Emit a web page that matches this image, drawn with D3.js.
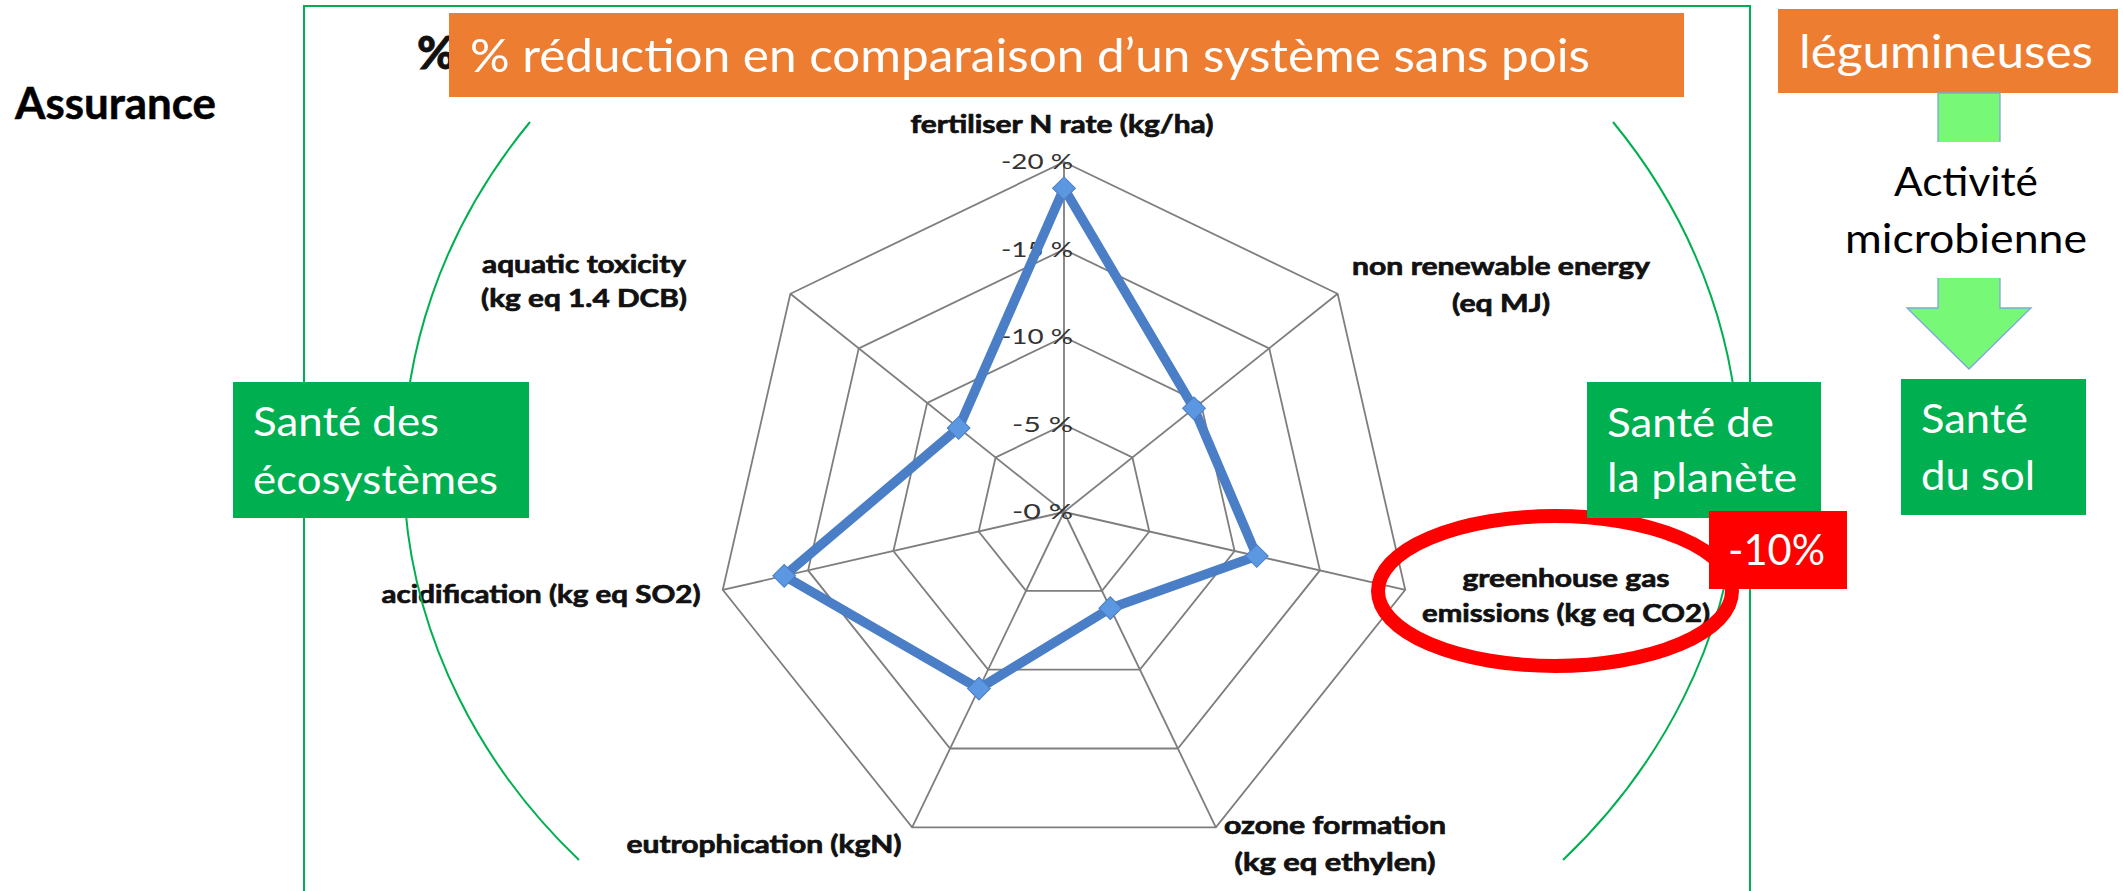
<!DOCTYPE html>
<html><head><meta charset="utf-8">
<script src="https://cdn.jsdelivr.net/npm/d3@7"></script>
<style>html,body{margin:0;padding:0;background:#fff;overflow:hidden}</style>
</head><body><svg id="c" width="2123" height="891"></svg>
<script>
// ---------- data ----------
const categories = ["fertiliser N rate (kg/ha)", "non renewable energy (eq MJ)", "greenhouse gas emissions (kg eq CO2)", "ozone formation (kg eq ethylen)", "eutrophication (kgN)", "acidification (kg eq SO2)", "aquatic toxicity (kg eq  1.4 DCB)"];
const categoryLines = [["fertiliser N rate (kg/ha)"], ["non renewable energy", "(eq MJ)"], ["greenhouse gas", "emissions (kg eq CO2)"], ["ozone formation", "(kg eq ethylen)"], ["eutrophication (kgN)"], ["acidification (kg eq SO2)"], ["aquatic toxicity", "(kg eq  1.4 DCB)"]];
const reduction = [18.5, 9.5, 11.3, 6.1, 11.2, 16.4, 7.7];
const tickValues = [0, 5, 10, 15, 20];
const tickLabels = ["-0 %", "-5 %", "-10 %", "-15 %", "-20 %"];
const titleText = "% réduction en comparaison d’un système sans pois";
const legumText = "légumineuses";
const activityLines = ["Activité", "microbienne"];
const ecoLines = ["Santé des", "écosystèmes"];
const planetLines = ["Santé de", "la planète"];
const soilLines = ["Santé", "du sol"];
const badgeText = "-10%";
const sideText = "Assurance";

// ---------- layout (positions / styles) ----------
const labelLayout = [
  {x: 1062, y: [133], w: [303]},
  {x: 1501, y: [275, 312], w: [298, 98]},
  {x: 1566, y: [587, 622], w: [207, 288]},
  {x: 1335, y: [834, 871], w: [222, 201]},
  {x: 764, y: [853], w: [275]},
  {x: 541, y: [603], w: [319]},
  {x: 584, y: [273, 307], w: [204, 206]}
];
const FONT = "Lato, 'Open Sans', sans-serif";
const GREEN = "#00B050", ORANGE = "#ED7D31", RED = "#FF0000";

const svg = d3.select("#c");
const cx = 1064, cy = 512, R = 350;
const r = d3.scaleLinear().domain([0, 20]).range([0, R]);
const a = d3.scaleLinear().domain([0, categories.length]).range([0, 2 * Math.PI]);
const px = (i, v) => cx + r(v) * Math.sin(a(i));
const py = (i, v) => cy - r(v) * Math.cos(a(i));

// green frame
svg.append("rect").attr("x", 304).attr("y", 6).attr("width", 1446).attr("height", 1000)
  .attr("fill", "none").attr("stroke", GREEN).attr("stroke-width", 2);

// hidden chart title fragment
svg.append("text").attr("x", 417).attr("y", 69).attr("font-family", FONT).attr("font-weight", 900)
  .attr("font-size", 46).attr("fill", "#111").attr("stroke", "#111").attr("stroke-width", 0.8).text("%");

// ---------- radar ----------
const g = svg.append("g");
const ringLine = d3.lineRadial().angle((d, i) => a(i)).radius(d => r(d)).curve(d3.curveLinearClosed);
tickValues.filter(t => t > 0).forEach(t => {
  g.append("path").attr("transform", `translate(${cx},${cy})`)
    .attr("d", ringLine(categories.map(() => t)))
    .attr("fill", "none").attr("stroke", "#7e7e7e").attr("stroke-width", 1.8);
});
categories.forEach((c, i) => {
  g.append("line").attr("x1", cx).attr("y1", cy).attr("x2", px(i, 20)).attr("y2", py(i, 20))
    .attr("stroke", "#7e7e7e").attr("stroke-width", 1.8);
});
// tick labels
tickValues.forEach((t, k) => {
  const lab = tickLabels[k];
  g.append("text").attr("x", cx + 9).attr("y", cy - r(t) + 7).attr("text-anchor", "end")
    .attr("font-family", FONT).attr("font-size", 21).attr("fill", "#333")
    .attr("textLength", lab.length > 4 ? 72 : 61).attr("lengthAdjust", "spacingAndGlyphs")
    .text(lab);
});
// series
g.append("path").attr("transform", `translate(${cx},${cy})`)
  .attr("d", ringLine(reduction))
  .attr("fill", "none").attr("stroke", "#4A7EC6").attr("stroke-width", 9.5).attr("stroke-linejoin", "round");
const sym = d3.symbol(d3.symbolSquare, 260);
reduction.forEach((v, i) => {
  g.append("path").attr("d", sym())
    .attr("transform", `translate(${px(i, v)},${py(i, v)}) rotate(45)`)
    .attr("fill", "#5C98E2").attr("stroke", "#4A7EC6").attr("stroke-width", 1);
});
// category labels
categoryLines.forEach((lines, i) => {
  const L = labelLayout[i];
  lines.forEach((s, j) => {
    g.append("text").attr("x", L.x).attr("y", L.y[j]).attr("text-anchor", "middle")
      .attr("font-family", FONT).attr("font-weight", 700).attr("font-size", 24).attr("fill", "#111")
      .attr("stroke", "#111").attr("stroke-width", 0.7)
      .attr("textLength", L.w[j]).attr("lengthAdjust", "spacingAndGlyphs").text(s);
  });
});

// green arcs
svg.append("path").attr("d", "M530,122 A668,585 0 0 0 579,860").attr("fill", "none")
  .attr("stroke", GREEN).attr("stroke-width", 2);
svg.append("path").attr("d", "M1613,122 A668,585 0 0 1 1563,860").attr("fill", "none")
  .attr("stroke", GREEN).attr("stroke-width", 2);

// title box
svg.append("rect").attr("x", 449).attr("y", 13).attr("width", 1235).attr("height", 84).attr("fill", ORANGE);
svg.append("text").attr("x", 470).attr("y", 72).attr("font-family", FONT).attr("font-size", 47)
  .attr("fill", "#fff").attr("textLength", 1120).attr("lengthAdjust", "spacingAndGlyphs").text(titleText);

// légumineuses box
svg.append("rect").attr("x", 1778).attr("y", 9).attr("width", 340).attr("height", 84).attr("fill", ORANGE);
svg.append("text").attr("x", 1799).attr("y", 68).attr("font-family", FONT).attr("font-size", 46)
  .attr("fill", "#fff").attr("textLength", 294).attr("lengthAdjust", "spacingAndGlyphs").text(legumText);

// arrow
svg.append("path").attr("d", "M1938,93 L2000,93 L2000,308 L2031,308 L1969,369 L1907,308 L1938,308 Z")
  .attr("fill", "#77F877").attr("stroke", "#7FA6DC").attr("stroke-width", 1.3);
svg.append("rect").attr("x", 1900).attr("y", 142).attr("width", 140).attr("height", 136).attr("fill", "#fff");
activityLines.forEach((s, j) => {
  svg.append("text").attr("x", 1966).attr("y", [196, 253][j]).attr("text-anchor", "middle")
    .attr("font-family", FONT).attr("font-size", 41).attr("fill", "#000")
    .attr("textLength", [144, 242][j]).attr("lengthAdjust", "spacingAndGlyphs").text(s);
});

// red ellipse
svg.append("ellipse").attr("cx", 1555).attr("cy", 591).attr("rx", 177).attr("ry", 75)
  .attr("fill", "none").attr("stroke", RED).attr("stroke-width", 14);

// green boxes
function greenBox(x, y, w, h, tx, lines, bases, widths) {
  svg.append("rect").attr("x", x).attr("y", y).attr("width", w).attr("height", h).attr("fill", GREEN);
  lines.forEach((s, j) => {
    svg.append("text").attr("x", tx).attr("y", bases[j]).attr("font-family", FONT).attr("font-size", 40)
      .attr("fill", "#fff").attr("textLength", widths[j]).attr("lengthAdjust", "spacingAndGlyphs").text(s);
  });
}
greenBox(233, 382, 296, 136, 253, ecoLines, [436, 494], [186, 245]);
greenBox(1587, 382, 234, 136, 1607, planetLines, [437, 492], [167, 190]);
greenBox(1901, 379, 185, 136, 1921, soilLines, [433, 490], [107, 114]);

// red badge
svg.append("rect").attr("x", 1709).attr("y", 511).attr("width", 138).attr("height", 78).attr("fill", RED);
svg.append("text").attr("x", 1728).attr("y", 565).attr("font-family", FONT).attr("font-size", 42)
  .attr("fill", "#fff").attr("textLength", 97).attr("lengthAdjust", "spacingAndGlyphs").text(badgeText);

// side label
svg.append("text").attr("x", 15).attr("y", 119).attr("font-family", FONT).attr("font-weight", 700)
  .attr("font-size", 43).attr("fill", "#000").attr("stroke", "#000").attr("stroke-width", 0.5)
  .attr("textLength", 201).attr("lengthAdjust", "spacingAndGlyphs").text(sideText);
</script>
</body></html>
